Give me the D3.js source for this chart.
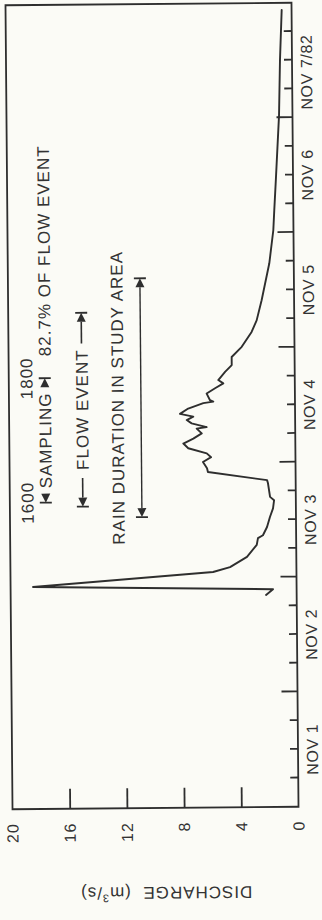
<!DOCTYPE html>
<html>
<head>
<meta charset="utf-8">
<script src="https://cdn.jsdelivr.net/npm/d3@7/dist/d3.min.js"></script>
<style>
  html, body { margin: 0; padding: 0; background: #fbfbf6; }
  svg { display: block; }
  text { font-family: "Liberation Sans", Arial, sans-serif; fill: #333; }
</style>
</head>
<body>
<svg id="chart" width="322" height="920"></svg>
<script>
// Discharge hydrograph, 1-8 November 1982.
// Time is in hours after 00:00 on Nov 1; discharge in m3/s.
const hours = [44.3, 45.5, 46.4, 49.2, 50.2, 52.3, 54.8, 56.2, 56.8, 58.5,
               60.6, 62.4, 64.1, 64.8, 67.7, 68.3, 70.1, 70.9, 72.2, 73.2,
               74.0, 75.1, 76.1, 77.1, 78.2, 79.2, 79.5, 80.3, 81.0, 81.7,
               82.3, 83.4, 84.5, 84.8, 85.1, 86.5, 87.6, 88.6, 89.3, 91.0,
               92.4, 94.1, 96.2, 99.3, 101.7, 105.9, 113.6, 120.5, 124.7, 131.6,
               144.5, 156.0, 166.5];
const discharge = [2.14, 1.65, 18.43, 5.83, 4.64, 3.45, 2.76, 2.67, 2.32, 2.03,
                   1.82, 1.60, 1.52, 1.80, 1.94, 2.00, 6.13, 6.19, 6.47, 5.90,
                   6.20, 7.49, 7.83, 7.13, 6.54, 6.89, 6.19, 7.24, 7.58, 7.12,
                   8.05, 7.47, 6.41, 5.71, 5.94, 6.17, 5.58, 5.00, 5.35, 4.87,
                   4.40, 4.40, 3.69, 2.99, 2.63, 2.27, 1.71, 1.41, 1.33, 1.19,
                   0.94, 0.84, 0.69];

const dayLabels = ["NOV 1", "NOV 2", "NOV 3", "NOV 4", "NOV 5", "NOV 6", "NOV 7/82"];
const valueTicks = [0, 4, 8, 12, 16, 20];

// Event spans (hours after Nov 1 00:00)
const samplingSpan = [64, 90];          // 1600 Nov 3 to 1800 Nov 4
const samplingTimes = ["1600", "1800"];
const flowEventSpan = [63.1, 103.6];
const rainSpan = [60.8, 110.7];

const samplingText = "SAMPLING";
const shareText = "82.7% OF FLOW EVENT";
const flowText = "FLOW EVENT";
const rainText = "RAIN DURATION IN STUDY AREA";
const yTitle = "DISCHARGE  (m";

// ---- layout (the plot is drawn landscape, then turned a quarter turn) ----
const W = 804, H = 286;
const ink = "#2e2e2e";

const svg = d3.select("#chart");
svg.append("rect").attr("width", 322).attr("height", 920).attr("fill", "#fbfbf6");

const root = svg.append("g").attr("transform", "rotate(-0.5,152,406)");
const g = root.append("g").attr("transform", "translate(9,808) rotate(-90)");

const x = d3.scaleLinear().domain([0, 168]).range([0, W]);
const y = d3.scaleLinear().domain([0, 20]).range([H, 0]);

// frame
g.append("rect")
  .attr("x", 0).attr("y", 0).attr("width", W).attr("height", H)
  .attr("fill", "none").attr("stroke", ink).attr("stroke-width", 1.8);

// time axis: 6-hour ticks, longer at midnight
const xAxis = g.append("g")
  .attr("transform", `translate(0,${H})`)
  .call(d3.axisBottom(x).tickValues(d3.range(6, 168, 6)).tickFormat("").tickSizeOuter(0).tickSize(-8));
xAxis.select(".domain").remove();
xAxis.selectAll(".tick line")
  .attr("stroke", ink).attr("stroke-width", 1.8)
  .attr("y2", d => (d % 24 === 0 ? -16 : -8));

// day labels centred at noon
g.selectAll(".daylab").data(dayLabels).join("text")
  .attr("class", "daylab")
  .attr("x", (d, i) => x(24 * i + 12))
  .attr("dx", (d, i) => (i === dayLabels.length - 1 ? -12 : 0))
  .attr("y", H + 20)
  .attr("text-anchor", "middle")
  .style("font-size", "16px").style("letter-spacing", "0.6px")
  .text(d => d);

// discharge axis
const yAxis = g.append("g")
  .call(d3.axisLeft(y).tickValues([4, 8, 12, 16]).tickFormat("").tickSizeOuter(0).tickSize(-20));
yAxis.select(".domain").remove();
yAxis.selectAll(".tick line").attr("stroke", ink).attr("stroke-width", 1.8);

g.selectAll(".vlab").data(valueTicks).join("text")
  .attr("class", "vlab")
  .attr("x", -14)
  .attr("y", d => y(d) + 5.8)
  .attr("text-anchor", "end")
  .style("font-size", "16px").style("letter-spacing", "1px")
  .text(d => d);

// axis title
const title = g.append("text")
  .attr("transform", `translate(-79,153) rotate(-90)`)
  .attr("text-anchor", "middle")
  .style("font-size", "17px").style("letter-spacing", "1px")
  .style("white-space", "pre");
title.append("tspan").text(yTitle);
title.append("tspan").attr("dy", -7).style("font-size", "11px").text("3");
title.append("tspan").attr("dy", 7).text("/s)");

// hydrograph
const pts = hours.map((h, i) => [h, discharge[i]]);
g.append("path")
  .datum(pts)
  .attr("fill", "none").attr("stroke", ink).attr("stroke-width", 1.9)
  .attr("stroke-linejoin", "round").attr("stroke-linecap", "round")
  .attr("d", d3.line().x(d => x(d[0])).y(d => y(d[1])));

// ---- annotation helpers ----
const ann = g.append("g");
function bar(u, w) {
  ann.append("line").attr("x1", u).attr("x2", u).attr("y1", w - 6).attr("y2", w + 6)
    .attr("stroke", ink).attr("stroke-width", 1.8);
}
function arrow(u, w, dir) { // dir -1 points left, +1 points right; tip at u
  const len = 9, half = 4.5;
  ann.append("path")
    .attr("d", `M${u},${w} L${u - dir * len},${w - half} L${u - dir * len},${w + half} Z`)
    .attr("fill", ink);
}
function label(txt, u, w, anchor, size) {
  return ann.append("text").attr("x", u).attr("y", w + 0.36 * size)
    .attr("text-anchor", anchor)
    .style("font-size", size + "px").style("letter-spacing", "1px")
    .text(txt);
}

// row 1: sampling times
const r1 = 17.5, r2 = 36, r3 = 73, r4 = 108.5, r5 = 132;
label(samplingTimes[0], x(samplingSpan[0]), r1, "middle", 17);
label(samplingTimes[1], x(samplingSpan[1]), r1, "middle", 17);

// row 2: sampling bracket and share of the flow event
bar(x(samplingSpan[0]), r2); arrow(x(samplingSpan[0]), r2, -1);
bar(x(samplingSpan[1]), r2); arrow(x(samplingSpan[1]), r2, 1);
label(samplingText, (x(samplingSpan[0]) + x(samplingSpan[1])) / 2, r2, "middle", 17);
label(shareText, x(samplingSpan[1]) + 22, r2, "start", 17);

// row 3: flow event bracket
{
  const a = x(flowEventSpan[0]), b = x(flowEventSpan[1]), m = (a + b) / 2;
  bar(a, r3); arrow(a, r3, -1);
  bar(b, r3); arrow(b, r3, 1);
  const t = label(flowText, m, r3, "middle", 17);
  const tl = t.node().getComputedTextLength();
  ann.append("line").attr("x1", a + 9).attr("x2", m - tl / 2 - 8).attr("y1", r3).attr("y2", r3)
    .attr("stroke", ink).attr("stroke-width", 1.6);
  ann.append("line").attr("x1", m + tl / 2 + 6).attr("x2", b - 9).attr("y1", r3).attr("y2", r3)
    .attr("stroke", ink).attr("stroke-width", 1.6);
}

// rows 4-5: rain duration
{
  const a = x(rainSpan[0]), b = x(rainSpan[1]);
  label(rainText, (a + b) / 2, r4, "middle", 17);
  bar(a, r5); arrow(a, r5, -1);
  bar(b, r5); arrow(b, r5, 1);
  ann.append("line").attr("x1", a + 9).attr("x2", b - 9).attr("y1", r5).attr("y2", r5)
    .attr("stroke", ink).attr("stroke-width", 1.4);
}
</script>
</body>
</html>
